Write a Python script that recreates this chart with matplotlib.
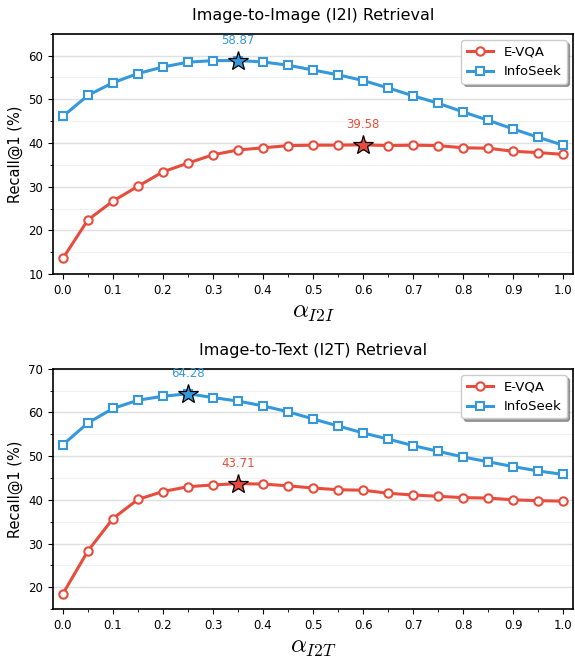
import numpy as np
import matplotlib
matplotlib.use("Agg")
import matplotlib.pyplot as plt
from matplotlib.ticker import MultipleLocator

plt.rcParams['mathtext.fontset'] = 'cm'

alpha = [0.0, 0.05, 0.1, 0.15, 0.2, 0.25, 0.3, 0.35, 0.4, 0.45, 0.5,
         0.55, 0.6, 0.65, 0.7, 0.75, 0.8, 0.85, 0.9, 0.95, 1.0]

# Image-to-Image
evqa_i2i = [13.6, 22.4, 26.7, 30.1, 33.4, 35.4, 37.3, 38.4, 38.9, 39.4, 39.5,
            39.5, 39.58, 39.4, 39.5, 39.4, 38.9, 38.8, 38.1, 37.8, 37.4]
infoseek_i2i = [46.1, 50.9, 53.8, 55.9, 57.4, 58.5, 58.85, 58.87, 58.55, 57.8, 56.7,
                55.6, 54.3, 52.6, 50.8, 49.1, 47.1, 45.2, 43.2, 41.3, 39.5]

# Image-to-Text
evqa_i2t = [18.5, 28.3, 35.7, 40.1, 41.9, 43.0, 43.4, 43.71, 43.6, 43.2, 42.7,
            42.3, 42.2, 41.5, 41.1, 40.8, 40.5, 40.4, 40.0, 39.8, 39.7]
infoseek_i2t = [52.6, 57.6, 60.9, 62.8, 63.7, 64.28, 63.4, 62.6, 61.5, 60.15, 58.5,
                56.9, 55.3, 53.9, 52.4, 51.1, 49.8, 48.7, 47.6, 46.6, 45.8]

red = "#e74c3c"
blue = "#3498db"

fig = plt.figure(figsize=(5.75, 6.62), dpi=100)
ax1 = fig.add_axes([0.092, 0.586, 0.905, 0.363])
ax2 = fig.add_axes([0.092, 0.080, 0.905, 0.363])


def draw(ax, evqa, infoseek, title, xlabel, ylim):
    ax.plot(alpha, evqa, color=red, lw=2.2, marker="o", ms=6,
            mfc="white", mec=red, mew=1.5, label="E-VQA")
    ax.plot(alpha, infoseek, color=blue, lw=2.2, marker="s", ms=6,
            mfc="white", mec=blue, mew=1.5, label="InfoSeek")
    for vals, c in [(evqa, red), (infoseek, blue)]:
        i = int(np.argmax(vals))
        ax.plot(alpha[i], vals[i], marker="*", ms=15, color=c,
                mec="black", mew=0.9, zorder=5)
        ax.annotate(f"{vals[i]:.2f}", (alpha[i], vals[i]),
                    xytext=(0, 10), textcoords="offset points",
                    ha="center", va="bottom", color=c, fontsize=8.5)
    ax.set_title(title, fontsize=11.5, pad=10)
    ax.set_xlabel(xlabel, fontsize=18, labelpad=2)
    ax.set_ylabel("Recall@1 (%)", fontsize=10.5)
    ax.set_xlim(-0.02, 1.02)
    ax.set_ylim(*ylim)
    ax.xaxis.set_major_locator(MultipleLocator(0.1))
    ax.xaxis.set_minor_locator(MultipleLocator(0.05))
    ax.yaxis.set_major_locator(MultipleLocator(10))
    ax.yaxis.set_minor_locator(MultipleLocator(5))
    ax.tick_params(labelsize=8.5)
    ax.grid(axis="y", which="major", color="#e0e0e0", lw=1)
    ax.grid(axis="y", which="minor", color="#f0f0f0", lw=0.8)
    ax.set_axisbelow(True)
    for s in ax.spines.values():
        s.set_linewidth(1.2)
    ax.legend(loc="upper right", fontsize=9.5, shadow=True, fancybox=True,
              framealpha=1, edgecolor="#cccccc")


draw(ax1, evqa_i2i, infoseek_i2i, "Image-to-Image (I2I) Retrieval",
     r"$\alpha_{I2I}$", (10, 65))
draw(ax2, evqa_i2t, infoseek_i2t, "Image-to-Text (I2T) Retrieval",
     r"$\alpha_{I2T}$", (15, 70))

fig.savefig("out.png", dpi=100)
